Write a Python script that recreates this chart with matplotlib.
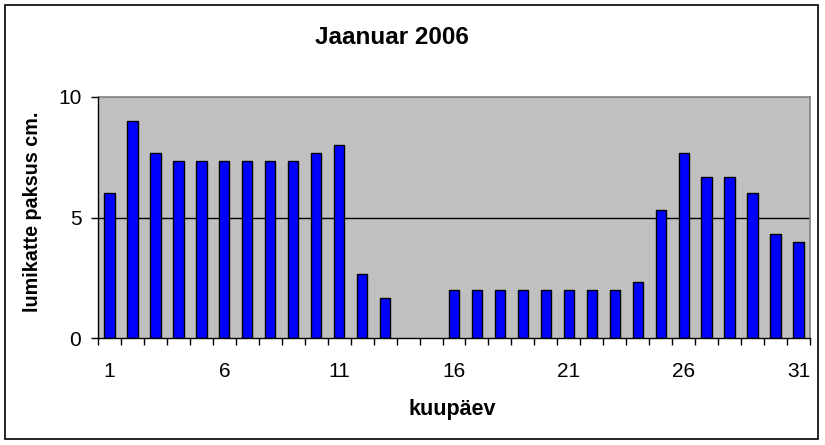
import matplotlib
matplotlib.use("Agg")
import matplotlib.pyplot as plt
from matplotlib.patches import Rectangle

days = list(range(1, 32))
snow_cm = [6.0, 9.0, 7.67, 7.33, 7.33, 7.33, 7.33, 7.33, 7.33, 7.67, 8.0,
           2.67, 1.67, 0.0, 0.0, 2.0, 2.0, 2.0, 2.0, 2.0, 2.0, 2.0, 2.0,
           2.33, 5.33, 7.67, 6.67, 6.67, 6.0, 4.33, 4.0]
day_labels = [1, 6, 11, 16, 21, 26, 31]
y_ticks = [0, 5, 10]

plt.rcParams['font.family'] = ['Liberation Sans', 'DejaVu Sans']

W, H = 825, 445
fig = plt.figure(figsize=(W / 100, H / 100), dpi=100)
fig.patch.set_facecolor('white')

# outer frame
fig.patches.append(Rectangle((5 / W, 1 - 439 / H), (818 - 5) / W, (439 - 5) / H,
                             transform=fig.transFigure, fill=False,
                             edgecolor='black', linewidth=1.2))

left, right, top, bottom = 98, 810, 97, 338
ax = fig.add_axes([left / W, 1 - bottom / H, (right - left) / W, (bottom - top) / H])
ax.set_facecolor('#C0C0C0')

edge_widths = [1.0 if v > 0 else 0.0 for v in snow_cm]
ax.bar(days, snow_cm, width=0.45, color='#0000FF', edgecolor='black',
       linewidth=edge_widths, zorder=3)
ax.axhline(5, color='black', linewidth=1.0, zorder=2)

ax.set_xlim(0.5, 31.5)
ax.set_ylim(0, 10)

ax.set_yticks(y_ticks)
ax.set_yticklabels([str(v) for v in y_ticks], fontsize=15)
ax.set_xticks([d + 0.5 for d in range(0, 32)], minor=False)
ax.set_xticklabels([])
ax.set_xticks(day_labels, minor=True)
ax.set_xticklabels([str(d) for d in day_labels], minor=True, fontsize=15)
ax.tick_params(axis='x', which='major', direction='out', length=5, width=1, color='black')
ax.tick_params(axis='x', which='minor', length=0, pad=17)
ax.tick_params(axis='y', direction='out', length=5, width=1, pad=7)

for s in ['top', 'right']:
    ax.spines[s].set_color('#808080')
    ax.spines[s].set_linewidth(1.2)
for s in ['left', 'bottom']:
    ax.spines[s].set_color('black')
    ax.spines[s].set_linewidth(1.0)
    ax.spines[s].set_zorder(4)

fig.text(392 / W, 1 - 37 / H, 'Jaanuar 2006', ha='center', va='center',
         fontsize=17.5, fontweight='bold')
fig.text(452 / W, 1 - 410 / H, 'kuupäev', ha='center', va='center',
         fontsize=15.5, fontweight='bold')
fig.text(33 / W, 1 - 212 / H, 'lumikatte paksus cm.', ha='center', va='center',
         rotation=90, fontsize=14.2, fontweight='bold')

fig.savefig('out.png', dpi=100, facecolor='white')
